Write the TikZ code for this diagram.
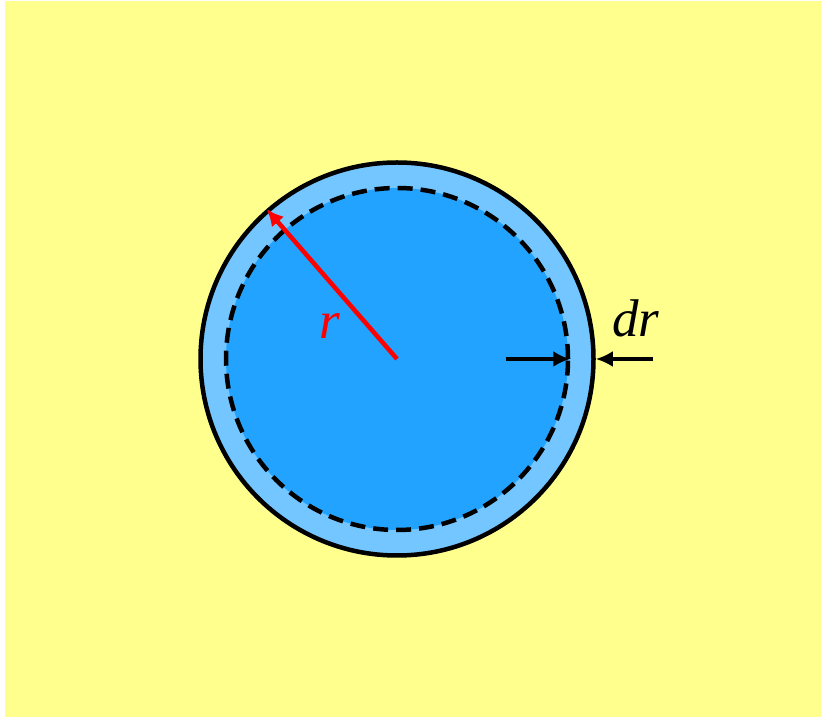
\documentclass[tikz,border=0pt]{standalone}
\usepackage{fontspec}
\setmainfont{Liberation Serif}
\newfontfamily\labfont{Liberation Serif}
\usepackage{tikz}
\usetikzlibrary{arrows.meta,positioning}
\definecolor{bgyellow}{HTML}{FFFF8E}
\definecolor{ringblue}{HTML}{73C6FF}
\definecolor{coreblue}{HTML}{22A3FF}
\definecolor{radred}{HTML}{FF0000}

\begin{document}
\begin{tikzpicture}[x=1pt, y=1pt,
  disc/.style={circle, inner sep=0pt, line width=4.5pt},
  lab/.style={font=\labfont\itshape\fontsize{53}{57}\selectfont},
  arr/.style={-{Latex[length=17pt, width=16pt]}, line width=4.5pt}]
  \useasboundingbox (0,0) rectangle (821,717);
  \fill[bgyellow] (5,0) rectangle (821,716);
  % ---------------- shell and core
  \coordinate (c) at (397,358);
  \node[disc, draw=black, fill=ringblue, minimum size=393pt] (outer) at (c) {};
  \node[disc, draw=black, fill=coreblue, dash pattern=on 15pt off 8pt, minimum size=342pt] (inner) at (c) {};
  % ---------------- radius
  \draw[arr, radred] (c) -- (outer.131);
  \node[lab, text=radred, anchor=base] (rlab) at (330,378) {r};
  % ---------------- thickness
  \coordinate (dl) at (506,358);
  \coordinate (dr) at (653,358);
  \draw[arr] (dl) -- (inner.east);
  \draw[arr] (dr) -- (outer.east);
  \node[lab, anchor=base] (drlab) at (636,380) {dr};
\end{tikzpicture}
\end{document}
